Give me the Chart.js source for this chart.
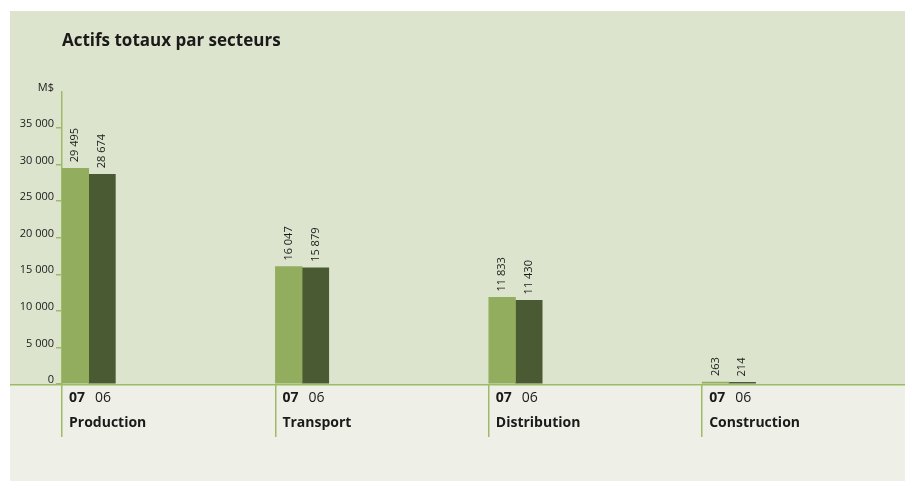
<!DOCTYPE html>
<html>
<head>
<meta charset="utf-8">
<script src="https://cdn.jsdelivr.net/npm/chart.js@4/dist/chart.umd.min.js"></script>
<style>
  html, body { margin: 0; padding: 0; background: #fff; overflow: hidden; }
  #chart { position: absolute; left: 0; top: 0; }
</style>
</head>
<body>
<canvas id="chart" width="905" height="481"></canvas>
<script>
// data
const categories = ['Production', 'Transport', 'Distribution', 'Construction'];
const years = ['07', '06'];
const values07 = [29495, 16047, 11833, 263];
const values06 = [28674, 15879, 11430, 214];
const yMax = 40000;
const yStep = 5000;
const yUnit = 'M$';

const FONT = "'Open Sans', sans-serif";
const lightGreen = '#93ad5e';
const darkGreen = '#4a5a32';
const axisGreen = '#9dbb66';
const topBg = '#dde4cd';
const bottomBg = '#eeefe7';
const textColor = '#1a1a1a';

const fmt = n => String(n).replace(/\B(?=(\d{3})+(?!\d))/g, ' ');

// bars sit at the left of each category slot (1/8 of a category wide each)
const toPoints = (vals, slot) => vals.map((v, i) => ({ x: i + (slot + 0.5) / 8, y: v }));

const panelPlugin = {
  id: 'panel',
  beforeDraw(chart) {
    const { ctx, chartArea, width, height } = chart;
    ctx.save();
    ctx.fillStyle = topBg;
    ctx.fillRect(10, 11, width - 10, chartArea.bottom - 11);
    ctx.fillStyle = bottomBg;
    ctx.fillRect(10, chartArea.bottom, width - 10, height - chartArea.bottom);
    ctx.restore();
  },
  beforeDatasetsDraw(chart) {
    const { ctx, chartArea, width } = chart;
    ctx.save();
    ctx.strokeStyle = axisGreen;
    ctx.lineWidth = 1.5;
    ctx.beginPath();
    ctx.moveTo(10, chartArea.bottom + 0.75);
    ctx.lineTo(width, chartArea.bottom + 0.75);
    ctx.stroke();
    ctx.restore();
  }
};

const labelsPlugin = {
  id: 'labels',
  afterDatasetsDraw(chart) {
    const { ctx } = chart;
    ctx.save();
    ctx.fillStyle = textColor;
    ctx.font = '11px ' + FONT;
    ctx.textAlign = 'left';
    ctx.textBaseline = 'middle';
    chart.data.datasets.forEach((ds, di) => {
      chart.getDatasetMeta(di).data.forEach((bar, i) => {
        ctx.save();
        ctx.translate(bar.x, bar.y - 6);
        ctx.rotate(-Math.PI / 2);
        ctx.fillText(fmt(ds.data[i].y), 0, 0);
        ctx.restore();
      });
    });
    ctx.restore();
  },
  afterDraw(chart) {
    const { ctx, chartArea } = chart;
    const xScale = chart.scales.x;
    ctx.save();
    ctx.fillStyle = textColor;
    ctx.textAlign = 'left';
    ctx.textBaseline = 'middle';
    categories.forEach((name, i) => {
      const x0 = xScale.getPixelForValue(i);
      ctx.font = 'bold 14px ' + FONT;
      ctx.fillText(years[0], x0 + 7, chartArea.bottom + 14);
      ctx.font = '14px ' + FONT;
      ctx.fillText(years[1], x0 + 33, chartArea.bottom + 14);
      ctx.font = 'bold 14px ' + FONT;
      ctx.fillText(name, x0 + 7, chartArea.bottom + 39);
    });
    ctx.restore();
  }
};

new Chart(document.getElementById('chart'), {
  type: 'bar',
  data: {
    datasets: [
      { label: years[0], data: toPoints(values07, 0), backgroundColor: lightGreen },
      { label: years[1], data: toPoints(values06, 1), backgroundColor: darkGreen }
    ]
  },
  options: {
    responsive: false,
    animation: false,
    devicePixelRatio: 1,
    layout: { padding: { left: 0, right: 0, top: 0, bottom: 0 } },
    datasets: {
      bar: { grouped: false, barThickness: 26.7, borderWidth: 0 }
    },
    plugins: {
      legend: { display: false },
      tooltip: { enabled: false },
      title: {
        display: true,
        text: 'Actifs totaux par secteurs',
        align: 'start',
        fullSize: false,
        color: textColor,
        font: { family: FONT, size: 17, weight: 'bold' },
        padding: { top: 31, bottom: 40 }
      }
    },
    scales: {
      x: {
        type: 'linear',
        offset: false,
        min: 0,
        max: (905 - 62) / 213.4,
        afterBuildTicks: s => { s.ticks = categories.map((c, i) => ({ value: i })); },
        afterFit: s => { s.height = 97; },
        border: { display: false },
        grid: {
          offset: false,
          drawOnChartArea: false,
          drawTicks: true,
          tickLength: 53,
          color: axisGreen,
          lineWidth: 1.5
        },
        ticks: { display: false }
      },
      y: {
        min: 0,
        max: yMax,
        afterFit: s => { s.width = 62; },
        border: { display: true, color: axisGreen, width: 1.5 },
        grid: {
          drawOnChartArea: false,
          tickLength: 6,
          lineWidth: 1.5,
          color: c => (c.tick && c.tick.value === yMax) ? 'rgba(0,0,0,0)' : axisGreen
        },
        ticks: {
          stepSize: yStep,
          padding: 2,
          labelOffset: -4,
          color: textColor,
          font: { family: FONT, size: 11 },
          callback: v => v === yMax ? yUnit : fmt(v)
        }
      }
    }
  },
  plugins: [panelPlugin, labelsPlugin]
});
</script>
</body>
</html>
